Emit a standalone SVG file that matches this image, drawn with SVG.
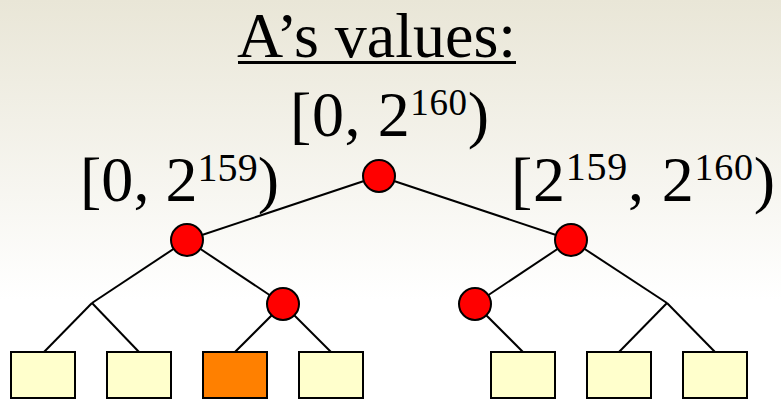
<svg xmlns="http://www.w3.org/2000/svg" width="781" height="400" viewBox="0 0 781 400">
<defs>
<linearGradient id="bg" x1="0" y1="0" x2="0" y2="1">
<stop offset="0" stop-color="#E9E6D7"/>
<stop offset="0.75" stop-color="#FFFFFF"/>
<stop offset="1" stop-color="#FFFFFF"/>
</linearGradient>
<style>
.edge{stroke:#000;stroke-width:2;fill:none;}
.node{fill:#FF0000;stroke:#000;stroke-width:2;}
.leaf{fill:#FFFFCC;stroke:#000;stroke-width:2;}
.hit{fill:#FF8000;stroke:#000;stroke-width:2;}
</style>
</defs>
<rect x="0" y="0" width="781" height="400" fill="url(#bg)"/>
<g font-family="Liberation Serif, Times New Roman, Tinos, DejaVu Serif, serif" fill="#000" font-size="64">
<g id="title">
<text x="237" y="57">A’s values:</text>
<rect x="238" y="61" width="278" height="3" fill="#000"/>
</g>
<g id="label-root"><text x="290" y="136" textLength="199" lengthAdjust="spacing">[0, 2<tspan font-size="37" dy="-21">160</tspan><tspan dy="21">)</tspan></text></g>
<g id="label-left"><text x="80" y="201" textLength="199" lengthAdjust="spacing">[0, 2<tspan font-size="40" dy="-20">159</tspan><tspan dy="20">)</tspan></text></g>
<g id="label-right"><text x="511" y="201" textLength="264" lengthAdjust="spacing">[2<tspan font-size="40" dy="-21">159</tspan><tspan dy="21">, 2</tspan><tspan font-size="38" dy="-21">160</tspan><tspan dy="21">)</tspan></text></g>
</g>
<g id="connectors">
<line class="edge" x1="379" y1="176" x2="187" y2="240"/>
<line class="edge" x1="379" y1="176" x2="571" y2="240"/>
<line class="edge" x1="187" y1="240" x2="92" y2="303"/>
<line class="edge" x1="187" y1="240" x2="283" y2="304"/>
<line class="edge" x1="92" y1="303" x2="44" y2="352"/>
<line class="edge" x1="92" y1="303" x2="139" y2="352"/>
<line class="edge" x1="283" y1="304" x2="235" y2="352"/>
<line class="edge" x1="283" y1="304" x2="331" y2="352"/>
<line class="edge" x1="571" y1="240" x2="475" y2="304"/>
<line class="edge" x1="571" y1="240" x2="667" y2="303"/>
<line class="edge" x1="475" y1="304" x2="523" y2="352"/>
<line class="edge" x1="667" y1="303" x2="619" y2="352"/>
<line class="edge" x1="667" y1="303" x2="715" y2="352"/>
</g>
<g id="n-root"><circle class="node" cx="379" cy="176" r="16"/></g>
<g id="n-l"><circle class="node" cx="187" cy="240" r="16"/></g>
<g id="n-r"><circle class="node" cx="571" cy="240" r="16"/></g>
<g id="n-lr"><circle class="node" cx="283" cy="304" r="16"/></g>
<g id="n-rl"><circle class="node" cx="475" cy="304" r="16"/></g>
<g id="leaf1"><rect class="leaf" x="11" y="352" width="64" height="46"/></g>
<g id="leaf2"><rect class="leaf" x="107" y="352" width="64" height="46"/></g>
<g id="leaf3"><rect class="hit" x="203" y="352" width="64" height="46"/></g>
<g id="leaf4"><rect class="leaf" x="299" y="352" width="64" height="46"/></g>
<g id="leaf5"><rect class="leaf" x="491" y="352" width="64" height="46"/></g>
<g id="leaf6"><rect class="leaf" x="587" y="352" width="64" height="46"/></g>
<g id="leaf7"><rect class="leaf" x="683" y="352" width="64" height="46"/></g>
</svg>
